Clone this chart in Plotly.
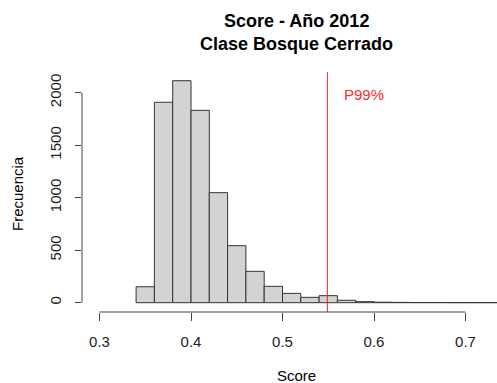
import plotly.graph_objects as go

# Histogram bins (left edges) and counts
bin_left = [0.34, 0.36, 0.38, 0.40, 0.42, 0.44, 0.46, 0.48, 0.50, 0.52, 0.54,
            0.56, 0.58, 0.60, 0.62, 0.64, 0.66, 0.68, 0.70, 0.72, 0.74]
counts = [152, 1909, 2114, 1832, 1048, 543, 299, 156, 89, 51, 67,
          23, 10, 5, 3, 2, 2, 1, 1, 1, 1]
bin_width = 0.02
p99 = 0.549
x_ticks = [0.3, 0.4, 0.5, 0.6, 0.7]
y_ticks = [0, 500, 1000, 1500, 2000]
title_lines = ["Score - Año 2012", "Clase Bosque Cerrado"]

FONT = "Liberation Sans, Arial, Helvetica, sans-serif"
W, H = 497, 383
L, R, T, B = 82, 0, 72, 71

centers = [b + bin_width / 2 for b in bin_left]

fig = go.Figure()
fig.add_trace(go.Bar(
    x=centers, y=counts, width=[bin_width] * len(counts),
    marker=dict(color="#d3d3d3", line=dict(color="#333333", width=1)),
    hoverinfo="skip", showlegend=False,
))

# R-style axis lines spanning only the tick range
fig.add_shape(type="line", xref="x", yref="paper", x0=x_ticks[0], x1=x_ticks[-1],
              y0=0, y1=0, line=dict(color="#444444", width=1))
fig.add_shape(type="line", xref="paper", yref="y", x0=0, x1=0,
              y0=y_ticks[0], y1=y_ticks[-1], line=dict(color="#444444", width=1))

# P99 line
fig.add_shape(type="line", xref="x", yref="paper", x0=p99, x1=p99, y0=0, y1=1,
              line=dict(color="#e8231f", width=1))
fig.add_annotation(x=0.589, y=1985, xref="x", yref="y", text="P99%",
                   showarrow=False, font=dict(family=FONT, size=15, color="#ff2a2a"))

plot_w = W - L - R
plot_h = H - T - B
def px_x(px):
    return (px - L) / plot_w
def px_y(py):
    return (H - B - py) / plot_h

# Title lines
fig.add_annotation(x=px_x(296), y=px_y(20.5), xref="paper", yref="paper",
                   text="<b>" + title_lines[0] + "</b>", showarrow=False,
                   xanchor="center", yanchor="middle",
                   font=dict(family=FONT, size=18, color="#000000"))
fig.add_annotation(x=px_x(296), y=px_y(44), xref="paper", yref="paper",
                   text="<b>" + title_lines[1] + "</b>", showarrow=False,
                   xanchor="center", yanchor="middle",
                   font=dict(family=FONT, size=18, color="#000000"))
# Axis titles
fig.add_annotation(x=px_x(296), y=px_y(375), xref="paper", yref="paper",
                   text="Score", showarrow=False, xanchor="center", yanchor="middle",
                   font=dict(family=FONT, size=15, color="#000000"))
fig.add_annotation(x=px_x(17), y=px_y(194), xref="paper", yref="paper",
                   text="Frecuencia", showarrow=False, textangle=-90,
                   xanchor="center", yanchor="middle",
                   font=dict(family=FONT, size=15, color="#000000"))

y0_px, y2000_px = 302.7, 92.7
scale = (y0_px - y2000_px) / 2000.0
ymin = -((H - B) - y0_px) / scale
ymax = (y0_px - T) / scale
x03 = 99.5
xs = 915.0
xmin = 0.3 - (x03 - L) / xs
xmax = 0.3 + (W - R - x03) / xs

fig.update_layout(
    width=W, height=H,
    margin=dict(l=L, r=R, t=T, b=B, pad=0, autoexpand=False),
    paper_bgcolor="white", plot_bgcolor="white",
    bargap=0,
    hovermode=False,
    font=dict(family=FONT, size=15, color="#000000"),
    xaxis=dict(range=[xmin, xmax], tickvals=x_ticks, automargin=False,
               ticktext=[f"{v:.1f}" for v in x_ticks],
               showgrid=False, zeroline=False, showline=False,
               ticks="outside", ticklen=8, tickwidth=1, tickcolor="#444444",
               ticklabelstandoff=8,
               tickfont=dict(family=FONT, size=15, color="#222222")),
    yaxis=dict(range=[ymin, ymax], tickvals=y_ticks, automargin=False,
               ticktext=[str(v) for v in y_ticks], tickangle=-90,
               showgrid=False, zeroline=False, showline=False,
               ticks="outside", ticklen=6, tickwidth=1, tickcolor="#444444",
               ticklabelstandoff=8,
               tickfont=dict(family=FONT, size=15, color="#222222")),
)

fig.write_html("out.html",
               config={"displayModeBar": False, "staticPlot": True},
               post_script="document.body.style.margin='0px';document.body.style.overflow='hidden';")
